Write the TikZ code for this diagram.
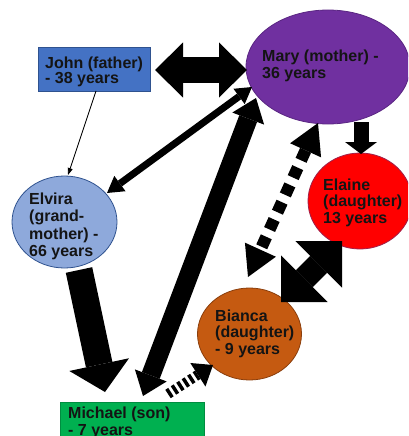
\documentclass[tikz,border=0pt]{standalone}
\usepackage{fontspec}
\setmainfont{Liberation Sans}
\usetikzlibrary{shapes.geometric,arrows.meta}
\definecolor{johnblue}{HTML}{4472C4}
\definecolor{johnedge}{HTML}{2F528F}
\definecolor{maryfill}{HTML}{7030A0}
\definecolor{maryedge}{HTML}{5A2682}
\definecolor{elainefill}{HTML}{FF0000}
\definecolor{elaineedge}{HTML}{A0204A}
\definecolor{elvirafill}{HTML}{8EA9DB}
\definecolor{elviraedge}{HTML}{2F528F}
\definecolor{biancafill}{HTML}{C55A11}
\definecolor{biancaedge}{HTML}{8A3E0C}
\definecolor{michaelfill}{HTML}{00B050}
\definecolor{txt}{HTML}{141414}
\newcommand\famlabel[2]{{\fontsize{16pt}{#1}\selectfont\bfseries\begin{tabular}[t]{@{}l@{}}#2\end{tabular}}}
\begin{document}
\begin{tikzpicture}[x=1pt,y=-1pt,
  shp/.style={inner sep=0pt, line width=0.8pt},
  oval/.style={shp, ellipse},
  lbl/.style={inner sep=0pt, anchor=base west, text=txt},
  dbl/.style n args={3}{draw=black, line width=#1,
     {Triangle[width=#2,length=#3,line width=0pt]}-{Triangle[width=#2,length=#3,line width=0pt]}},
  sgl/.style n args={3}{draw=black, line width=#1,
     -{Triangle[width=#2,length=#3,line width=0pt]}}
]
\useasboundingbox (0,0) rectangle (408,436);
\clip (0,0) rectangle (408,436);

% shapes
\node[shp, draw=johnedge, fill=johnblue, minimum width=112pt, minimum height=44pt] (john) at (94,69) {};
\node[oval, draw=maryedge, fill=maryfill, minimum width=164pt, minimum height=114pt] (mary) at (328,67) {};
\node[oval, draw=elaineedge, fill=elainefill, minimum width=104pt, minimum height=96pt] (elaine) at (360,201) {};
\node[oval, draw=elviraedge, fill=elvirafill, minimum width=105pt, minimum height=92pt] (elvira) at (64.5,222) {};
\node[oval, draw=biancaedge, fill=biancafill, minimum width=104pt, minimum height=92pt] (bianca) at (249.5,334) {};
\node[shp, draw=michaelfill!80!black, fill=michaelfill, minimum width=144pt, minimum height=48pt] (michael) at (132,426) {};

% connector end points
\coordinate (jm1) at (155,70);   \coordinate (jm2) at (247,70);
\coordinate (je1) at (96,91);    \coordinate (je2) at (68,175);
\coordinate (me1) at (252,87);   \coordinate (me2) at (107,193);
\coordinate (mk1) at (256,98);   \coordinate (mk2) at (143,396);
\coordinate (ek1) at (79,270);   \coordinate (ek2) at (105,392);
\coordinate (ml1) at (361,122);  \coordinate (ml2) at (361,154);
\coordinate (mb1) at (318,123);  \coordinate (mb2) at (248,277);
\coordinate (lb1) at (342,241);  \coordinate (lb2) at (281,302);
\coordinate (kb1) at (168,394);  \coordinate (kb2) at (213,365);

% connectors
\draw[dbl={26pt}{55pt}{28pt}] (jm1) -- (jm2);
\draw[line width=0.8pt, -{Triangle[width=5pt,length=7pt]}] (je1) -- (je2);
\draw[dbl={7pt}{19pt}{16pt}] (me1) -- (me2);
\draw[dbl={19pt}{34pt}{22pt}] (mk1) -- (mk2);
\draw[sgl={27pt}{61pt}{28pt}] (ek1) -- (ek2);
\draw[sgl={15pt}{32pt}{12pt}] (ml1) -- (ml2);
\draw[dbl={12pt}{34pt}{30pt}, dash pattern=on 11pt off 8pt] (mb1) -- (mb2);
\draw[dbl={24pt}{66pt}{33pt}] (lb1) -- (lb2);
\draw[sgl={10pt}{28pt}{18pt}, dash pattern=on 3.5pt off 3pt] (kb1) -- (kb2);

% labels
\node[lbl] (johnt) at (45,68) {\famlabel{15.5pt}{John (father)\\- 38 years}};
\node[lbl] (maryt) at (262,62) {\famlabel{17pt}{Mary (mother) -\\36 years}};
\node[lbl] (elainet) at (323,190) {\famlabel{16.5pt}{Elaine\\(daughter)\\13 years}};
\node[lbl] (elvirat) at (29,204) {\famlabel{17.5pt}{Elvira\\(grand-\\mother) -\\66 years}};
\node[lbl] (biancat) at (215,321) {\famlabel{16.5pt}{Bianca\\(daughter)\\- 9 years}};
\node[lbl] (michaelt) at (68,418) {\famlabel{17pt}{Michael (son)\\- 7 years}};
\end{tikzpicture}
\end{document}
